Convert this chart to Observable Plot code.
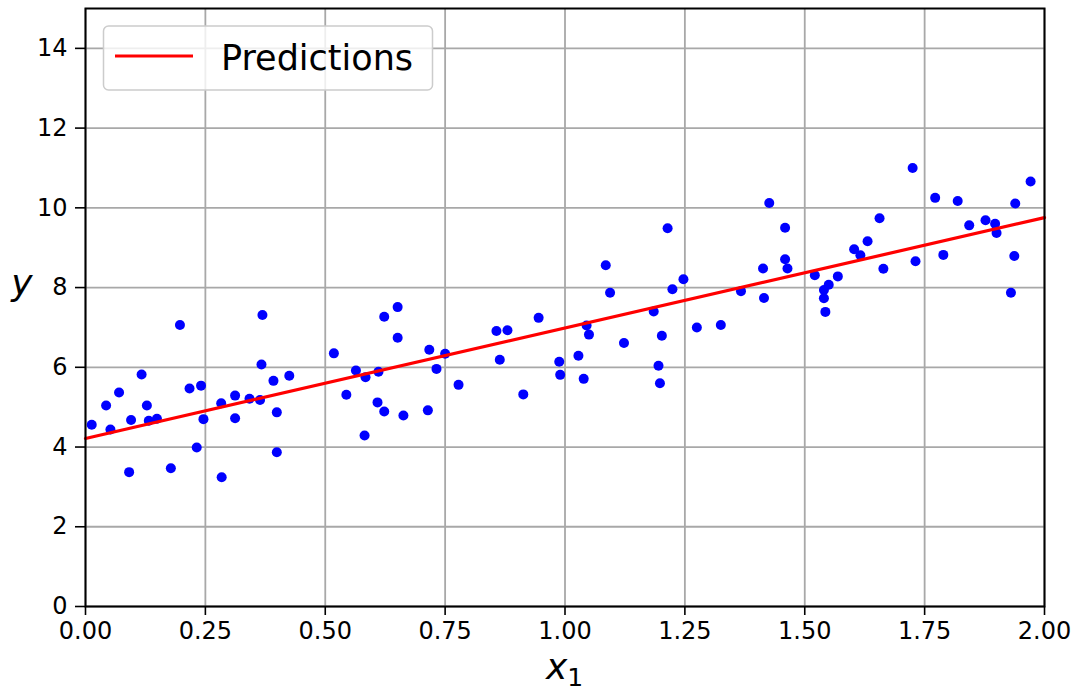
<!DOCTYPE html>
<html><head><meta charset="utf-8">
<script src="https://cdn.jsdelivr.net/npm/d3@7"></script>
<script src="https://cdn.jsdelivr.net/npm/@observablehq/plot@0.6"></script>
<style>body{margin:0;background:#fff} svg{display:block}</style>
</head><body><div id="chart"></div>
<script>
const x1 = [0.013,0.043,0.052,0.070,0.091,0.095,0.117,0.128,0.132,0.149,0.178,0.197,0.217,0.232,0.241,0.246,0.283,0.284,0.312,0.312,0.342,0.364,0.367,0.369,0.392,0.399,0.399,0.425,0.518,0.544,0.564,0.584,0.582,0.611,0.609,0.623,0.623,0.651,0.651,0.663,0.714,0.717,0.732,0.750,0.778,0.857,0.864,0.880,0.913,0.945,0.988,0.990,1.028,1.039,1.045,1.050,1.085,1.094,1.123,1.185,1.195,1.198,1.202,1.214,1.224,1.247,1.275,1.325,1.367,1.413,1.415,1.426,1.459,1.459,1.464,1.521,1.540,1.540,1.543,1.550,1.569,1.603,1.616,1.631,1.656,1.664,1.725,1.731,1.772,1.789,1.819,1.843,1.877,1.897,1.900,1.930,1.937,1.939,1.971];
const y = [4.56,5.04,4.44,5.37,3.37,4.68,5.82,5.04,4.66,4.71,3.47,7.06,5.47,3.99,5.54,4.70,5.10,3.24,5.29,4.72,5.21,5.18,6.07,7.31,5.66,4.87,3.87,5.79,6.35,5.31,5.92,5.75,4.29,5.89,5.12,7.27,4.89,7.51,6.74,4.79,4.92,6.44,5.96,6.34,5.56,6.91,6.19,6.93,5.32,7.24,6.14,5.81,6.29,5.71,7.05,6.82,8.56,7.87,6.61,7.40,6.04,5.60,6.79,9.49,7.96,8.21,7.00,7.06,7.91,8.48,7.74,10.12,9.50,8.71,8.48,8.31,7.94,7.73,7.39,8.07,8.28,8.96,8.81,9.16,9.74,8.47,11.00,8.66,10.25,8.82,10.17,9.56,9.69,9.60,9.37,7.87,8.79,10.11,10.66];
const xNew = [0, 2];
const yPredict = [4.215, 9.755];
const xTicks = [0, 0.25, 0.5, 0.75, 1, 1.25, 1.5, 1.75, 2];
const yTicks = [0, 2, 4, 6, 8, 10, 12, 14];
const legendLabel = "Predictions";
const xLabel = "x", xLabelSub = "1", yLabel = "y";

const points = x1.map((v, i) => ({x: v, y: y[i]}));
const line = xNew.map((v, i) => ({x: v, y: yPredict[i]}));

const plot = Plot.plot({
  width: 1077, height: 693,
  marginLeft: 85, marginRight: 33, marginTop: 8, marginBottom: 87,
  style: {fontFamily: "DejaVu Sans", fontSize: "24px", background: "#fff", color: "#000"},
  x: {domain: [0, 2]},
  y: {domain: [0, 15]},
  marks: [
    Plot.gridX(xTicks, {stroke: "#a8a8a8", strokeOpacity: 1, strokeWidth: 1.8}),
    Plot.gridY(yTicks, {stroke: "#a8a8a8", strokeOpacity: 1, strokeWidth: 1.8}),
    Plot.axisX(xTicks, {tickFormat: d3.format(".2f"), tickSize: 9, tickPadding: 6, label: null, strokeWidth: 1.6, fontSize: 24}),
    Plot.axisY(yTicks, {tickSize: 10, tickPadding: 8, label: null, strokeWidth: 1.6, fontSize: 24}),
    Plot.dot(points, {x: "x", y: "y", r: 5, fill: "#0000ff", stroke: null}),
    Plot.line(line, {x: "x", y: "y", stroke: "#ff0000", strokeWidth: 3.2}),
    Plot.frame({stroke: "#000", strokeWidth: 2})
  ]
});
document.getElementById("chart").appendChild(plot);

const svg = d3.select(plot);
const sx = plot.scale("x");
// axis labels
const xl = svg.append("text")
  .attr("x", (sx.apply(0) + sx.apply(2)) / 2).attr("y", 679)
  .attr("text-anchor", "middle")
  .style("font-family", "DejaVu Sans").style("font-size", "36px").style("font-style", "italic");
xl.append("tspan").text(xLabel);
xl.append("tspan").attr("dy", 7).style("font-size", "25px").style("font-style", "normal").text(xLabelSub);
svg.append("text")
  .attr("x", 22).attr("y", 295).attr("text-anchor", "middle")
  .style("font-family", "DejaVu Sans").style("font-size", "36px").style("font-style", "italic")
  .text(yLabel);
// legend
const lg = svg.append("g");
lg.append("rect").attr("x", 103.5).attr("y", 26).attr("width", 329).attr("height", 64)
  .attr("rx", 5).attr("fill", "#fff").attr("fill-opacity", 0.8)
  .attr("stroke", "#cccccc").attr("stroke-width", 1.5);
lg.append("line").attr("x1", 115).attr("x2", 193).attr("y1", 56).attr("y2", 56)
  .attr("stroke", "#ff0000").attr("stroke-width", 3);
lg.append("text").attr("x", 221).attr("y", 70).attr("text-anchor", "start")
  .style("font-family", "DejaVu Sans").style("font-size", "35px").attr("fill", "#000")
  .text(legendLabel);
</script>
</body></html>
